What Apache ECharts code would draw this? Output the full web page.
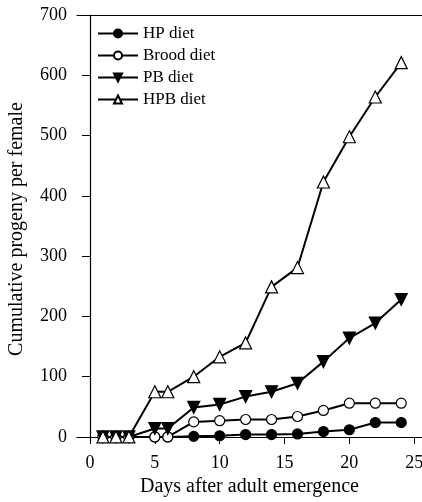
<!DOCTYPE html>
<html>
<head>
<meta charset="utf-8">
<script src="https://cdn.jsdelivr.net/npm/echarts@6/dist/echarts.min.js"></script>
<style>
  html, body { margin: 0; padding: 0; background: #fff; }
  #chart { width: 422px; height: 502px; }
</style>
</head>
<body>
<div id="chart"></div>
<script>
// days sampled
const days = [1, 2, 3, 5, 6, 8, 10, 12, 14, 16, 18, 20, 22, 24];
// cumulative progeny per female
const hpDiet = [0, 0, 0, 0, 0, 1, 2, 4, 4, 5, 9, 12, 24, 24];
const broodDiet = [0, 0, 0, 0, 0, 25, 27, 29, 29, 34, 44, 56, 56, 56];
const pbDiet = [0, 0, 0, 14, 14, 49, 54, 67, 75, 89, 125, 164, 189, 228];
const hpbDiet = [0, 0, 0, 75, 75, 100, 133, 156, 249, 281, 423, 498, 564, 621];
const xTicks = [0, 5, 10, 15, 20, 25];
const yTicks = [0, 100, 200, 300, 400, 500, 600, 700];

const font = 'Liberation Serif';

const pairs = vals => days.map((d, i) => [d, vals[i]]);

function line(name, vals, symbol, filled, rotate) {
  return {
    name: name,
    type: 'line',
    data: pairs(vals),
    symbol: symbol,
    symbolSize: symbol === 'circle' ? 10 : 12,
    symbolRotate: rotate || 0,
    showAllSymbol: true,
    lineStyle: { color: '#000', width: 2 },
    itemStyle: { color: filled ? '#000' : '#fff', borderColor: '#000', borderWidth: 1.2 },
    emphasis: { disabled: true },
    z: 2
  };
}

const chart = echarts.init(document.getElementById('chart'));
chart.setOption({
  animation: false,
  textStyle: { fontFamily: font, color: '#000' },
  grid: { left: 77, right: 0, top: 15, bottom: 59, containLabel: false, outerBoundsMode: 'none' },
  legend: {
    orient: 'vertical',
    left: 92,
    top: 20,
    itemWidth: 40,
    itemHeight: 10,
    itemGap: 5,
    textStyle: { fontFamily: font, fontSize: 17, lineHeight: 17, color: '#000' },
    data: ['HP diet', 'Brood diet', 'PB diet', 'HPB diet']
  },
  xAxis: [{
    type: 'value',
    min: -1,
    max: 25.6,
    name: 'Days after adult emergence',
    nameLocation: 'middle',
    nameGap: 34,
    nameTextStyle: { fontFamily: font, fontSize: 20, color: '#000' },
    axisLine: { lineStyle: { color: '#000', width: 1.2 } },
    axisTick: { show: true, length: 7, customValues: xTicks, lineStyle: { color: '#000' } },
    axisLabel: { customValues: xTicks, fontFamily: font, fontSize: 18, color: '#000', margin: 11 },
    splitLine: { show: false }
  }, {
    type: 'value',
    position: 'top',
    min: -1,
    max: 25.6,
    axisLine: { show: true, lineStyle: { color: '#000', width: 1.2 } },
    axisTick: { show: false },
    axisLabel: { show: false },
    splitLine: { show: false }
  }],
  yAxis: {
    type: 'value',
    min: -10,
    max: 700,
    name: 'Cumulative progeny per female',
    nameLocation: 'middle',
    nameGap: 50,
    nameTextStyle: { fontFamily: font, fontSize: 20, color: '#000' },
    axisLine: { show: true, lineStyle: { color: '#000', width: 1.2 } },
    axisTick: { show: true, length: 8, customValues: yTicks, lineStyle: { color: '#000' } },
    axisLabel: { customValues: yTicks, fontFamily: font, fontSize: 18, color: '#000', margin: 10 },
    splitLine: { show: false }
  },
  series: [
    line('HP diet', hpDiet, 'circle', true),
    line('Brood diet', broodDiet, 'circle', false),
    line('PB diet', pbDiet, 'triangle', true, 180),
    line('HPB diet', hpbDiet, 'triangle', false)
  ]
});
</script>
</body>
</html>
